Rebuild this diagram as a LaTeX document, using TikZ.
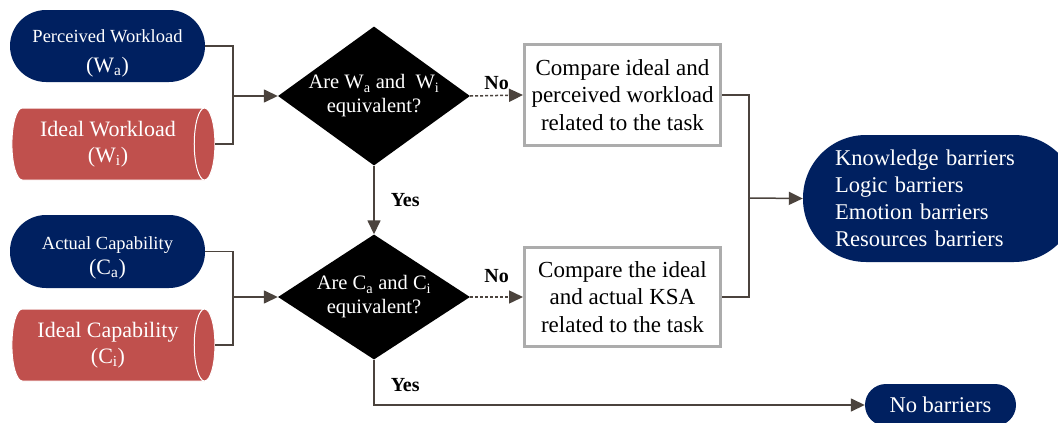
\documentclass[tikz,border=0pt]{standalone}
\usepackage{fontspec}
\setmainfont{Liberation Serif}
\usetikzlibrary{arrows.meta}
\usetikzlibrary{shapes.geometric}
\definecolor{navy}{HTML}{002060}
\definecolor{brick}{HTML}{C0504D}
\definecolor{connector}{HTML}{4B433D}
\colorlet{boxframe}{gray!65}

\tikzset{
    pill/.style={rectangle, rounded corners=#1, fill=navy, text=white, inner sep=0pt, align=center},
    pill/.default=36pt,
    drum/.style={cylinder, aspect=0.45, fill=brick, draw=white, line width=1pt, text=white,
        minimum height=203pt, minimum width=72pt, inner sep=0pt, align=center},
    decision/.style={diamond, fill=black, inner sep=0pt, minimum width=192pt},
    qtext/.style={text=white, align=center, font=\fontsize{20.5}{24}\selectfont},
    task/.style={rectangle, draw=boxframe, line width=3pt, fill=white, minimum width=196pt,
        align=center, font=\fontsize{23}{27.5}\selectfont},
    link/.style={draw=connector, line width=1.5pt},
    arrow/.style={link, -{Triangle[length=14pt,width=13pt]}},
    answer/.style={font=\bfseries\fontsize{20}{24}\selectfont, inner sep=2pt},
    small/.style={font=\fontsize{18.5}{22}\selectfont},
    big/.style={font=\fontsize{22}{26}\selectfont}
}

\begin{document}
\begin{tikzpicture}[x=1pt, y=-1pt]
        \useasboundingbox (0,0) rectangle (1058,423);
        % inputs
        \node[pill, minimum width=195pt, minimum height=72pt, small] (pw) at (107.5,46)
            {\rule{0pt}{28pt}Perceived Workload\\[8pt]{\fontsize{22}{26}\selectfont(W\textsubscript{a})}};
        \node[drum, big] (iw) at (108,144) {Ideal Workload\\(W\textsubscript{i})};
        \node[pill, minimum width=195pt, minimum height=73pt, small] (ca) at (107.5,251.5)
            {\rule{0pt}{26pt}Actual Capability\\[3pt]{\fontsize{22}{26}\selectfont(C\textsubscript{a})}};
        \node[drum, big] (ic) at (108,345) {Ideal Capability\\(C\textsubscript{i})};
        % decisions
        \node[decision, minimum height=139pt,
            label={[qtext]center:Are W\textsubscript{a} and \ W\textsubscript{i}\\equivalent?}] (d1) at (374,96) {};
        \node[decision, minimum height=125pt,
            label={[qtext]center:Are C\textsubscript{a} and C\textsubscript{i}\\equivalent?}] (d2) at (374,297) {};
        % comparisons
        \node[task, minimum height=101pt] (b1) at (622.5,95) {Compare ideal and\\perceived workload\\related to the task};
        \node[task, minimum height=99pt] (b2) at (622.5,297) {Compare the ideal\\and actual KSA\\related to the task};
        % outcomes
        \node[pill=63pt, minimum width=274pt, minimum height=127pt, text width=210pt, align=left,
            font=\fontsize{22.5}{27}\selectfont] (kb) at (940,198.5)
            {Knowledge barriers\\Logic barriers\\Emotion barriers\\Resources barriers};
        \node[pill=21pt, minimum width=151pt, minimum height=42pt, font=\fontsize{22.5}{27}\selectfont] (nb) at (940.5,405) {No barriers};

        \coordinate (j1) at (233,96);
        \coordinate (j2) at (233,297);
        \coordinate (j3) at (749,198);

        \draw[link] (pw.east) -| (j1);
        \draw[link] (iw.east) -| (j1);
        \draw[arrow] (j1) -- (d1.west);
        \draw[link] (ca.east) -| (j2);
        \draw[link] (ic.east) -| (j2);
        \draw[arrow] (j2) -- (d2.west);

        \draw[arrow, dash pattern=on 3pt off 2pt] (d1.east) -- node[answer, above=3pt] {No} (b1.west);
        \draw[arrow, dash pattern=on 3pt off 2pt] (d2.east) -- node[answer, above=12pt] {No} (b2.west);
        \draw[arrow] (d1.south) -- node[answer, right=14pt] {Yes} (d2.north);

        \draw[link] (b1.east) -| (j3);
        \draw[link] (b2.east) -| (j3);
        \draw[arrow] (j3) -- (kb.west);
        \draw[arrow] (d2.south) |- node[answer, pos=0.28, right=14pt] {Yes} (nb.west);
    \end{tikzpicture}
\end{document}
